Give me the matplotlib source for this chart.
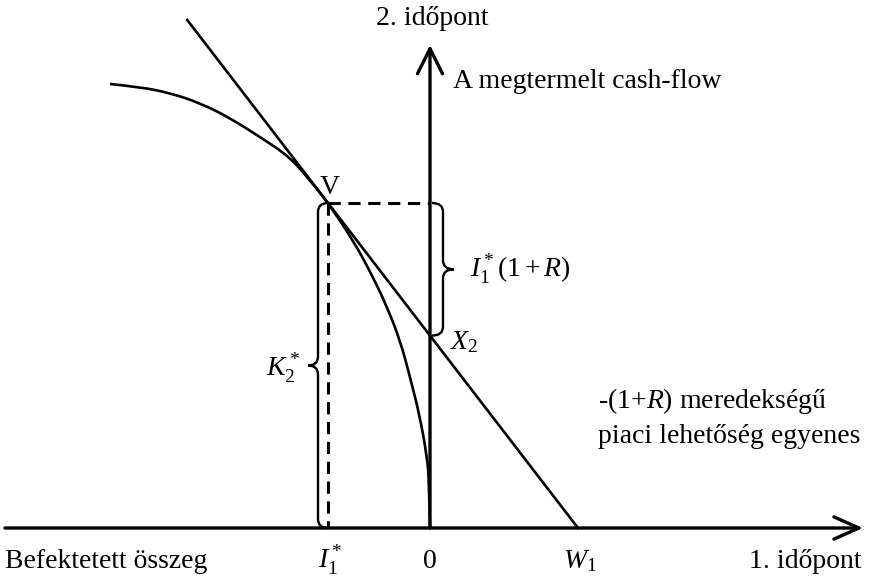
import matplotlib
matplotlib.use("Agg")
import matplotlib.pyplot as plt
from matplotlib.path import Path
from matplotlib.patches import PathPatch
import numpy as np

plt.rcParams['font.family'] = ['Liberation Serif', 'DejaVu Serif']
plt.rcParams['mathtext.fontset'] = 'custom'
plt.rcParams['mathtext.rm'] = 'Liberation Serif'
plt.rcParams['mathtext.it'] = 'Liberation Serif:italic'

# kulcspontok (pixel egysegben, origo a tengelyek metszespontja)
I1_star = -102
V_point = (-102, 325)
W1 = 148
slope = 1.30          # 1+R
line_top = 508

# termelesi lehetoseg gorbe (kepről leolvasott pontok)
curve_x = [-320, -290, -260, -230, -200, -170, -140, -117, -102, -77, -57, -43, -30, -20, -10, -3, -1, 0]
curve_y = [444, 441, 435, 425, 410, 391, 371, 344, 325, 288, 251, 221, 188, 151, 111, 71, 48, 0]

x_axis = (-425, 433)
y_axis = (0, 483)

bottom_labels = ["Befektetett összeg", r"$I_1^*$", "0", r"$W_1$", "1. időpont"]
bottom_pos = [-425, -100, 0, 150, 432]
bottom_ha = ["left", "center", "center", "center", "right"]


def smooth_path(xs, ys):
    # kvadratikus gorbe a szomszedos pontok felezopontjain at
    verts = [(xs[0], ys[0])]
    codes = [Path.MOVETO]
    for i in range(1, len(xs) - 1):
        mx = (xs[i] + xs[i + 1]) / 2.0
        my = (ys[i] + ys[i + 1]) / 2.0
        if i == len(xs) - 2:
            mx, my = xs[-1], ys[-1]
        verts += [(xs[i], ys[i]), (mx, my)]
        codes += [Path.CURVE3, Path.CURVE3]
    return Path(verts, codes)


def brace(ax, x, y0, y1, width, direction):
    # fuggoleges kapcsos zarojel y0-tol y1-ig
    ym = (y0 + y1) / 2.0
    s = 1 if y1 > y0 else -1
    r = 9 * s
    d = direction
    xh = x + d * width / 2.0
    xt = x + d * width
    verts = [(x, y0), (xh, y0), (xh, y0 + r),
             (xh, ym - r),
             (xh, ym), (xt, ym),
             (xh, ym), (xh, ym + r),
             (xh, y1 - r),
             (xh, y1), (x, y1)]
    codes = [Path.MOVETO, Path.CURVE3, Path.CURVE3,
             Path.LINETO,
             Path.CURVE3, Path.CURVE3,
             Path.CURVE3, Path.CURVE3,
             Path.LINETO,
             Path.CURVE3, Path.CURVE3]
    ax.add_patch(PathPatch(Path(verts, codes), fill=False, lw=1.7, color="black"))


fig = plt.figure(figsize=(8.7, 5.78), dpi=100)
ax = fig.add_axes([0, 0, 1, 1])
ax.set_xlim(-430, 440)
ax.set_ylim(-50, 528)
ax.axis("off")

# tengelyek
ax.annotate("", xy=(x_axis[1], 0), xytext=(x_axis[0], 0),
            arrowprops=dict(arrowstyle="->,head_length=1.8,head_width=0.8", lw=2.4, color="black",
                            shrinkA=0, shrinkB=0))
ax.annotate("", xy=(0, y_axis[1]), xytext=(0, y_axis[0]),
            arrowprops=dict(arrowstyle="->,head_length=1.8,head_width=0.9", lw=2.4, color="black",
                            shrinkA=0, shrinkB=0))

# piaci lehetoseg egyenes
line_x = np.array([W1 - line_top / slope, W1])
ax.plot(line_x, slope * (W1 - line_x), color="black", lw=1.9)

# gorbe
ax.add_patch(PathPatch(smooth_path(curve_x, curve_y), fill=False, lw=1.9, color="black"))

# szaggatott vonalak
ax.plot([V_point[0], 0], [V_point[1], V_point[1]], color="black", lw=2.2, linestyle=(0, (4, 2.5)))
ax.plot([I1_star, I1_star], [V_point[1], 0], color="black", lw=2.2, linestyle=(0, (4, 2.5)))

# zarojelek
X2 = slope * W1
brace(ax, 2, V_point[1], X2, 22, 1)
brace(ax, I1_star, V_point[1], 0, 20, -1)

fs = 20
ax.text(V_point[0] + 2, V_point[1] + 3, "V", fontsize=fs, ha="center", va="bottom")
ax.text(2, 503, "2. időpont", fontsize=fs, ha="center", va="baseline")
ax.text(23, 440, "A megtermelt cash-flow", fontsize=fs, ha="left", va="baseline")
ax.text(40, 259, r"$I_1^*(1+R)$", fontsize=fs, ha="left", va="center")
ax.text(20, 186, r"$X_2$", fontsize=fs, ha="left", va="center")
ax.text(-130, 160, r"$K_2^*$", fontsize=fs, ha="right", va="center")
ax.text(168, 120, r"-(1+$R$) meredekségű", fontsize=fs, ha="left", va="baseline")
ax.text(168, 85, "piaci lehetőség egyenes", fontsize=fs, ha="left", va="baseline")

for lab, xp, ha in zip(bottom_labels, bottom_pos, bottom_ha):
    ax.text(xp, -40, lab, fontsize=fs, ha=ha, va="baseline")

fig.savefig("out.png", dpi=100)
